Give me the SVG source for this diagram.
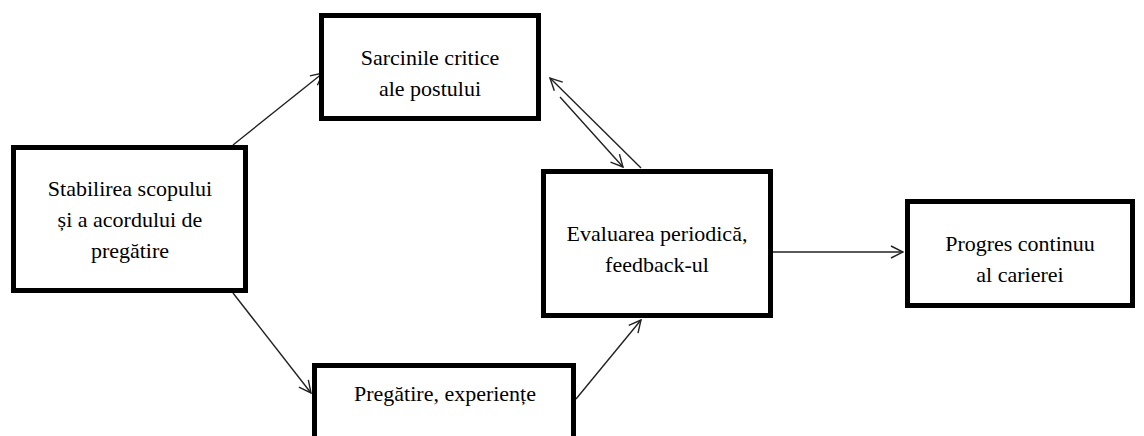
<svg xmlns="http://www.w3.org/2000/svg" width="1144" height="436" viewBox="0 0 1144 436">
  <style>
    .box { fill: #ffffff; stroke: #000000; stroke-width: 5; }
    .label { font-family: "Liberation Serif", "Times New Roman", "DejaVu Serif", serif; font-size: 22px; fill: #000000; text-anchor: middle; }
    .link { fill: none; stroke: #222222; stroke-width: 1.4; }
  </style>
  <defs>
    <marker id="arrow" viewBox="0 0 14 14" refX="13" refY="7" markerWidth="14" markerHeight="14" markerUnits="userSpaceOnUse" orient="auto">
      <path d="M1,1 L13,7 L1,13" fill="none" stroke="#222222" stroke-width="1.4"/>
    </marker>
  </defs>
  <rect width="1144" height="436" fill="#ffffff"/>

  <!-- arrows between the stages -->
  <g id="connectors">
    <line class="link" x1="233" y1="145" x2="323" y2="73" marker-end="url(#arrow)"/>
    <line class="link" x1="233" y1="293" x2="311" y2="393" marker-end="url(#arrow)"/>
    <line class="link" x1="576" y1="399" x2="641" y2="320" marker-end="url(#arrow)"/>
    <line class="link" x1="560" y1="97" x2="623" y2="167" marker-end="url(#arrow)"/>
    <line class="link" x1="641" y1="168" x2="550" y2="78" marker-end="url(#arrow)"/>
    <line class="link" x1="773" y1="252" x2="903" y2="252" marker-end="url(#arrow)"/>
  </g>

  <g id="node-stabilirea">
    <rect class="box" x="13.5" y="147.5" width="232" height="143"/>
    <text class="label" x="130" y="196">Stabilirea scopului</text>
    <text class="label" x="130" y="227">și a acordului de</text>
    <text class="label" x="130" y="258">pregătire</text>
  </g>

  <g id="node-sarcinile">
    <rect class="box" x="321.5" y="15.5" width="217" height="103"/>
    <text class="label" x="430" y="65">Sarcinile critice</text>
    <text class="label" x="430" y="96">ale postului</text>
  </g>

  <g id="node-evaluarea">
    <rect class="box" x="543.5" y="171.5" width="227" height="144"/>
    <text class="label" x="657" y="241">Evaluarea periodică,</text>
    <text class="label" x="657" y="272">feedback-ul</text>
  </g>

  <g id="node-progres">
    <rect class="box" x="907.5" y="201.5" width="225" height="104"/>
    <text class="label" x="1020" y="251">Progres continuu</text>
    <text class="label" x="1020" y="282">al carierei</text>
  </g>

  <g id="node-pregatire">
    <rect class="box" x="314.5" y="365.5" width="259" height="80"/>
    <text class="label" x="445" y="401">Pregătire, experiențe</text>
  </g>
</svg>
